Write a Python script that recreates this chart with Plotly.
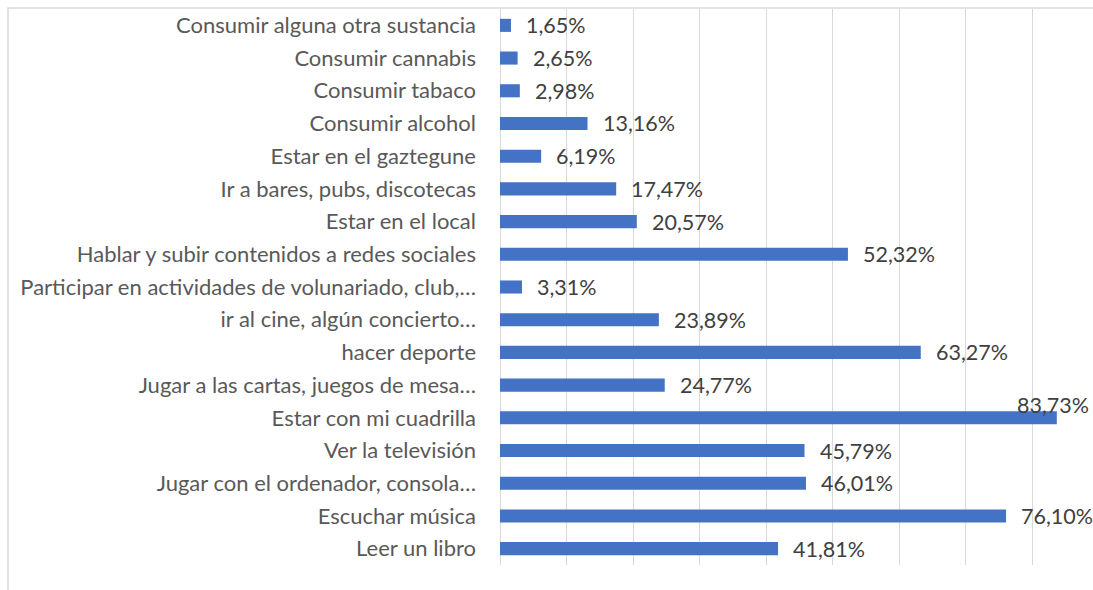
import plotly.graph_objects as go

categories = [
    "Consumir alguna otra sustancia",
    "Consumir cannabis",
    "Consumir tabaco",
    "Consumir alcohol",
    "Estar en el gaztegune",
    "Ir a bares, pubs, discotecas",
    "Estar en el local",
    "Hablar y subir contenidos a redes sociales",
    "Participar en actividades de volunariado, club,…",
    "ir al cine, algún concierto…",
    "hacer deporte",
    "Jugar a las cartas, juegos de mesa…",
    "Estar con mi cuadrilla",
    "Ver la televisión",
    "Jugar con el ordenador, consola…",
    "Escuchar música",
    "Leer un libro",
]
values = [1.65, 2.65, 2.98, 13.16, 6.19, 17.47, 20.57, 52.32, 3.31, 23.89,
          63.27, 24.77, 83.73, 45.79, 46.01, 76.10, 41.81]
labels = [f"{v:.2f}".replace(".", ",") + "%" for v in values]

FONT = "Lato"
FS_LAB = 21.5
FS_CAT = 22
W, H = 1093, 590
L, R, T, B = 500, 0, 9, 25
xmax = 89.17

fig = go.Figure(go.Bar(
    x=values, y=categories, orientation="h",
    marker=dict(color="#4472C4", line=dict(width=0)),
    hoverinfo="skip",
))

anns = []
vmax = max(values)
for c, v, t in zip(categories, values, labels):
    if v == vmax:
        anns.append(dict(x=1, y=c, text=t, showarrow=False, xanchor="right",
                         xshift=-2, yshift=13, xref="paper", yref="y",
                         font=dict(family=FONT, size=FS_LAB, color="#404040")))
    else:
        anns.append(dict(x=v, y=c, text=t, showarrow=False, xanchor="left",
                         xshift=13, xref="x", yref="y",
                         font=dict(family=FONT, size=FS_LAB, color="#404040")))

pw = W - L - R
ph = H - T - B
frame_x0 = (8 - L) / pw
frame_y1 = (H - B - 8) / ph

fig.update_layout(
    width=W, height=H,
    margin=dict(l=L, r=R, t=T, b=B, pad=0),
    paper_bgcolor="white", plot_bgcolor="white",
    bargap=0.6,
    showlegend=False,
    annotations=anns,
    shapes=[
        dict(type="rect", xref="paper", yref="paper", x0=frame_x0, x1=1.05,
             y0=-0.2, y1=frame_y1, line=dict(color="#D9D9D9", width=1.5),
             layer="below"),
    ],
    xaxis=dict(range=[0, xmax], dtick=10, tick0=0, showticklabels=False,
               showgrid=True, gridcolor="#D9D9D9", gridwidth=1,
               zeroline=True, zerolinecolor="#D9D9D9", zerolinewidth=1,
               showline=False, fixedrange=True),
    yaxis=dict(autorange="reversed", showgrid=False, ticks="",
               ticklabelstandoff=23,
               tickfont=dict(family=FONT, size=FS_CAT, color="#595959"),
               showline=False, fixedrange=True),
)

fig.write_html(
    "out.html",
    config={"displayModeBar": False, "staticPlot": True},
    post_script="document.body.style.margin='0';document.body.style.overflow='hidden';",
)
